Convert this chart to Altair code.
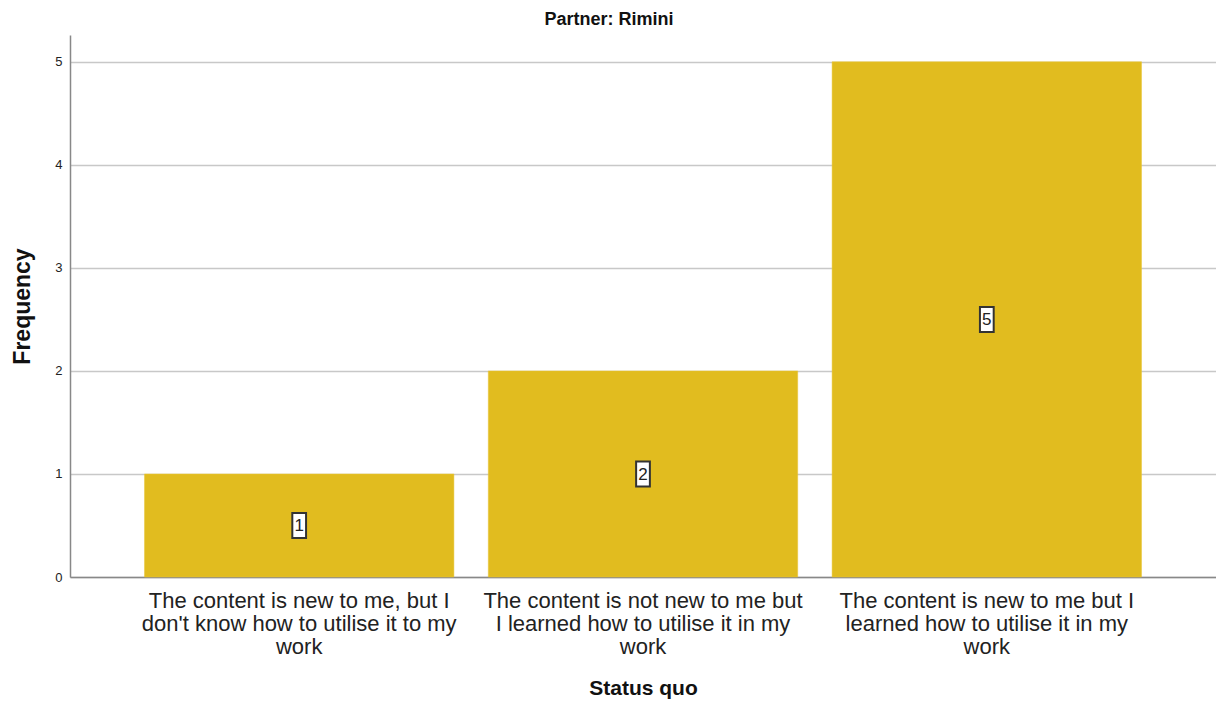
import altair as alt
import pandas as pd

categories = [
    "The content is new to me, but I don't know how to utilise it to my work",
    "The content is not new to me but I learned how to utilise it in my work",
    "The content is new to me but I learned how to utilise it in my work",
]
label_lines = [
    ["The content is new to me, but I", "don't know how to utilise it to my", "work"],
    ["The content is not new to me but", "I learned how to utilise it in my", "work"],
    ["The content is new to me but I", "learned how to utilise it in my", "work"],
]
frequencies = [1, 2, 5]
y_ticks = [0, 1, 2, 3, 4, 5]

df = pd.DataFrame({"Status quo": categories, "Frequency": frequencies})
df["mid"] = df["Frequency"] / 2

def q(s):
    return "'" + s.replace("'", "\\'") + "'"

expr = "datum.value"
for cat, lines in reversed(list(zip(categories, label_lines))):
    arr = "[" + ",".join(q(l) for l in lines) + "]"
    expr = f"datum.value == {q(cat)} ? {arr} : ({expr})"

FONT = "Liberation Sans"

x_scale = alt.Scale(paddingInner=0.1, paddingOuter=0.2166)

x_enc = alt.X(
    "Status quo:N",
    sort=categories,
    scale=x_scale,
    axis=alt.Axis(
        title="Status quo",
        labelAngle=0,
        labelExpr=expr,
        labelFontSize=22,
        labelFont=FONT,
        labelColor="#222222",
        labelLineHeight=23,
        labelPadding=13,
        labelLimit=400,
        ticks=False,
        domainColor="#888888",
        domainWidth=1.5,
        titleFont=FONT,
        titleFontSize=21,
        titleFontWeight="bold",
        titleColor="#111111",
        titlePadding=20,
    ),
)

y_scale = alt.Scale(domain=[0, 5.26], nice=False)

bars = alt.Chart(df).mark_bar(color="#E1BC1F", stroke="#E8C63A", strokeWidth=0.5).encode(
    x=x_enc,
    y=alt.Y(
        "Frequency:Q",
        scale=y_scale,
        axis=alt.Axis(
            values=y_ticks,
            format="d",
            title="Frequency",
            grid=True,
            gridColor="#C8C8C8",
            gridWidth=1.5,
            ticks=False,
            domainColor="#888888",
            domainWidth=1.5,
            labelFont=FONT,
            labelFontSize=13,
            labelColor="#222222",
            labelPadding=8,
            titleFont=FONT,
            titleFontSize=23,
            titleFontWeight="bold",
            titleColor="#111111",
            titlePadding=20,
        ),
    ),
)

boxes = alt.Chart(df).mark_point(
    shape="M-0.55,-1 L0.55,-1 L0.55,1 L-0.55,1 Z",
    size=625,
    filled=True,
    fill="white",
    stroke="#333333",
    strokeWidth=2,
    opacity=1,
).encode(
    x=alt.X("Status quo:N", sort=categories, scale=x_scale),
    y=alt.Y("mid:Q", scale=y_scale),
)

texts = alt.Chart(df).mark_text(font=FONT, fontSize=17, color="#222222", dy=1).encode(
    x=alt.X("Status quo:N", sort=categories, scale=x_scale),
    y=alt.Y("mid:Q", scale=y_scale),
    text="Frequency:Q",
)

chart = (
    alt.layer(bars, boxes, texts)
    .properties(
        width=1146,
        height=542,
        background="white",
        title=alt.TitleParams(
            "Partner: Rimini",
            font=FONT,
            fontSize=18,
            fontWeight="bold",
            color="#111111",
            anchor="middle",
            dx=-34,
            offset=6,
        ),
        autosize=alt.AutoSizeParams(type="none"),
        padding={"left": 62, "top": 27, "right": 0, "bottom": 124},
    )
    .configure_view(stroke=None)
)

chart.save("out.html", embed_options={"renderer": "svg", "actions": False})
